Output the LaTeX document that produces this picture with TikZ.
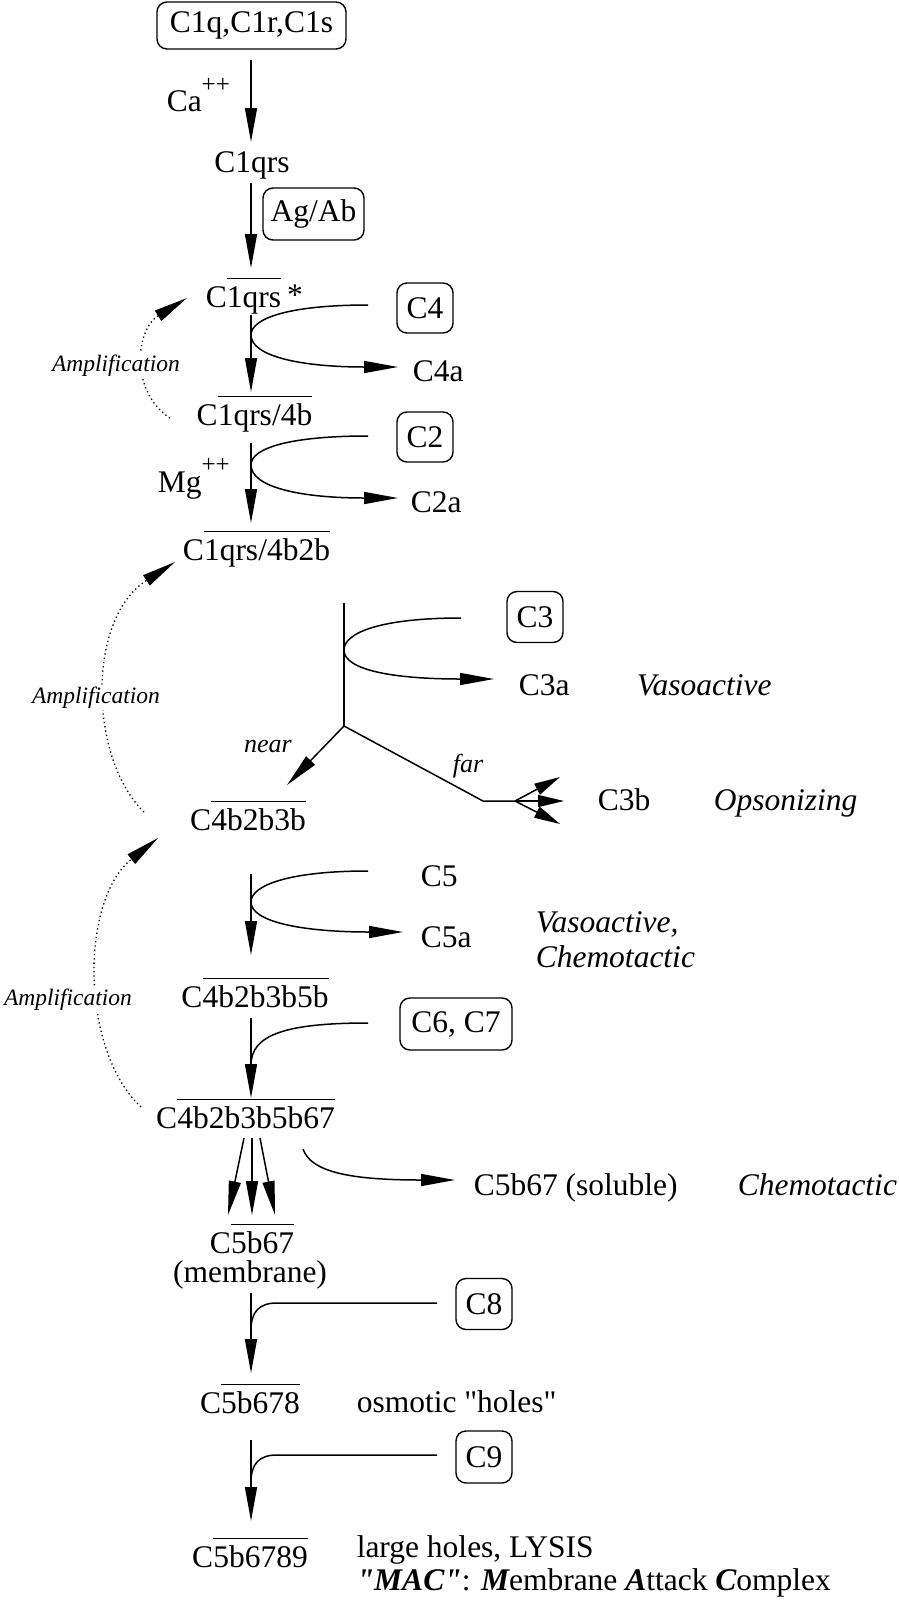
\documentclass[tikz,border=0pt]{standalone}
\usepackage{fontspec}
\setmainfont{Liberation Serif}[Ligatures=TeXOff]
\usetikzlibrary{arrows.meta}
\newcommand\myovl[1]{\setbox0\hbox{#1}\rlap{\rule[28pt]{\wd0}{1.5pt}}\box0}
\newcommand\plusplus[1]{\raisebox{#1}{\fontsize{25}{27}\selectfont ++}}
\begin{document}
\begin{tikzpicture}[x=1pt,y=-1pt,
  font=\fontsize{31.5}{36}\selectfont,
  line width=1.5pt,
  arr/.style={-{Triangle[length=34pt,width=12pt]}},
  sarr/.style={-{Triangle[length=26pt,width=12pt]}},
  cbox/.style={draw, rounded corners=10pt, line width=1.4pt, inner sep=0pt},
  lbl/.style={inner sep=0pt, anchor=base},
  lblw/.style={inner sep=0pt, anchor=base west},
  it/.style={font=\fontsize{31.5}{36}\selectfont\itshape},
  amp/.style={font=\fontsize{23.5}{26}\selectfont\itshape, inner sep=1.5pt, fill=white, anchor=base},
  sm/.style={font=\fontsize{26}{28}\selectfont\itshape, inner sep=0pt, anchor=base},
  dots/.style={line width=1.3pt, dash pattern=on 1.3pt off 3pt, -{Triangle[length=34pt,width=12pt]}}
]
\useasboundingbox (0,0) rectangle (898,1606);

% ---------- boxes ----------
\node[cbox, minimum width=189pt, minimum height=47pt] (top) at (251.5,25.5) {C1q,C1r,C1s};
\node[cbox, minimum width=101pt, minimum height=52pt] (agab) at (313.5,214) {Ag/Ab};
\node[cbox, minimum width=56pt, minimum height=50pt] (c4) at (425,308) {C4};
\node[cbox, minimum width=56pt, minimum height=50pt] (c2) at (425,437) {C2};
\node[cbox, minimum width=56pt, minimum height=51pt] (c3) at (535,617) {C3};
\node[cbox, minimum width=112pt, minimum height=52pt] (c67) at (456,1024) {C6, C7};
\node[cbox, minimum width=56pt, minimum height=51pt] (c8) at (484,1304) {C8};
\node[cbox, minimum width=56pt, minimum height=52pt] (c9) at (484,1457) {C9};

% ---------- texts ----------
\node[lblw] (ca) at (166,111) {Ca\plusplus{19pt}};
\node[lbl] (c1qrs) at (252,172) {C1qrs};
\node[lblw] (c1star) at (205,307) {C\myovl{1qrs}\hspace{6pt}\raisebox{2pt}{*}};
\node[lblw] (c4a) at (412,381) {C4a};
\node[lbl] (c14b) at (254.5,425) {C\myovl{1qrs/4b}};
\node[lblw] (mg) at (157,492) {Mg\plusplus{20pt}};
\node[lblw] (c2a) at (410,512) {C2a};
\node[lbl] (c14b2b) at (256.5,560) {C\myovl{1qrs/4b2b}};
\node[lblw] (c3a) at (518,695) {C3a};
\node[lblw, it] (vaso1) at (636,695) {Vasoactive};
\node[sm] (near) at (268,752) {near};
\node[sm] (far) at (468,772) {far};
\node[lbl] (c4b3b) at (248,830) {C\myovl{4b2b3b}};
\node[lblw] (c3b) at (597,810) {C3b};
\node[lblw, it] (opso) at (713,810) {Opsonizing};
\node[lblw] (c5) at (420,886) {C5};
\node[lblw] (c5a) at (420,947) {C5a};
\node[lblw, it] (vaso2) at (535,932) {Vasoactive,};
\node[lblw, it] (chemo1) at (535,967) {Chemotactic};
\node[lbl] (c4b5b) at (255,1007) {C\myovl{4b2b3b5b}};
\node[lbl] (c4b67) at (245.5,1128) {C\myovl{4b2b3b5b67}};
\node[lblw] (sol) at (473,1195) {C5b67 (soluble)};
\node[lblw, it] (chemo2) at (737,1195) {Chemotactic};
\node[lbl] (c5b67) at (252,1253) {C\myovl{5b67}};
\node[lbl] (memb) at (250,1282) {(membrane)};
\node[lbl] (c5b678) at (250,1413) {C\myovl{5b678}};
\node[lblw] (osm) at (356,1412) {osmotic "holes"};
\node[lbl] (c5b6789) at (250,1567) {C\myovl{5b6789}};
\node[lblw] (lysis) at (356,1557) {large holes, LYSIS};
\node[lblw] (mac) at (356,1590) {{\bfseries\itshape "MAC"}: {\bfseries\itshape M}embrane {\bfseries\itshape A}ttack {\bfseries\itshape C}omplex};

% ---------- main column ----------
\draw[arr] (251,60) -- (251,142);
\draw[arr] (251,183) -- (251,268);
\draw[arr] (251,315) -- (251,392);
\draw (368,305) .. controls (290,305) and (251,318) .. (251,335);
\draw[arr] (251,335) .. controls (251,356) and (300,367) .. (398,367);
\draw[arr] (251,443) -- (251,523);
\draw (368,436) .. controls (290,436) and (251,448) .. (251,465);
\draw[arr] (251,465) .. controls (251,487) and (300,498) .. (398,498);

% ---------- C3 fork ----------
\coordinate (j) at (344,726);
\draw (344,603) -- (j);
\draw (461,618) .. controls (383,618) and (344,632) .. (344,650);
\draw[arr] (344,650) .. controls (344,670) and (393,679) .. (494,679);
\draw[arr] (j) -- (287,785);
\coordinate (fb) at (515,801);
\draw (j) -- (483,801) -- (fb);
\draw[sarr] (fb) -- (560,777);
\draw[sarr] (fb) -- (564,801);
\draw[sarr] (fb) -- (560,824);

% ---------- lower column ----------
\draw[arr] (251,874) -- (251,955);
\draw (368,871) .. controls (290,871) and (251,885) .. (251,902);
\draw[arr] (251,902) .. controls (251,922) and (303,932) .. (403,932);
\draw[arr] (251,1018) -- (251,1098);
\draw (368,1023) .. controls (285,1023) and (251,1035) .. (251,1065);
\draw[arr] (244,1138) -- (228,1215);
\draw[arr] (252,1138) -- (252,1215);
\draw[arr] (260,1138) -- (275,1215);
\draw[arr] (303,1149) .. controls (311,1172) and (350,1180) .. (455,1180);
\draw[arr] (251,1293) -- (251,1373);
\draw (437,1303) -- (277,1303) .. controls (259,1303) and (251,1312) .. (251,1330);
\draw[arr] (251,1440) -- (251,1521);
\draw (437,1455) -- (277,1455) .. controls (259,1455) and (251,1464) .. (251,1482);

% ---------- amplification loops ----------
\draw[dots] (170,418) .. controls (130,392) and (135,330) .. (187,298);
\draw[dots] (144,812) .. controls (90,760) and (85,620) .. (175,562);
\draw[dots] (141,1107) .. controls (80,1050) and (80,900) .. (158,838);
\node[amp] (amp1) at (116,371) {Amplification};
\node[amp] (amp2) at (96,703) {Amplification};
\node[amp] (amp3) at (68,1005) {Amplification};
\end{tikzpicture}
\end{document}
